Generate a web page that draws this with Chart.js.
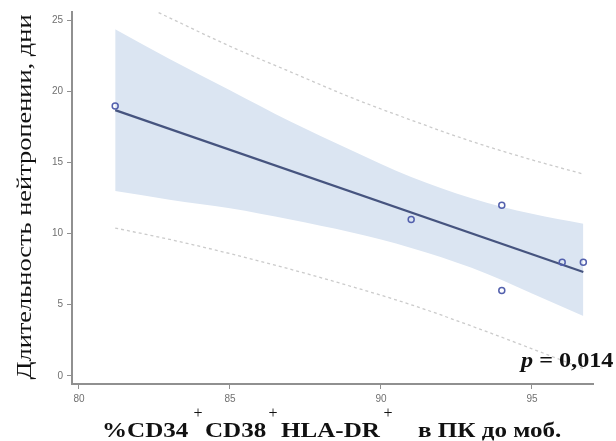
<!DOCTYPE html>
<html>
<head>
<meta charset="utf-8">
<script src="https://cdn.jsdelivr.net/npm/chart.js@4/dist/chart.umd.min.js"></script>
<style>
  html, body { margin: 0; padding: 0; background: #ffffff; }
  #wrap { width: 616px; height: 441px; position: relative; }
</style>
</head>
<body>
<div id="wrap"><canvas id="c" width="616" height="441"></canvas></div>
<script>
// Observed patients: CD34+CD38+HLA-DR+ share before mobilisation vs. neutropenia length
const cd34Percent = [81.2, 91, 94, 94, 96, 96.7];
const neutropeniaDays = [19, 11, 12, 6, 8, 8];

// Regression line end points
const fitX = [81.2, 96.7];
const fitY = [18.7, 7.3];

// Confidence band and prediction limits sampled along x
const bandX   = [81.2, 83, 85, 87, 89, 91, 93, 95, 96.7];
const ciUpper = [24.4, 22.3, 20.1, 17.9, 15.9, 14.0, 12.5, 11.4, 10.7];
const ciLower = [13.0, 12.4, 11.8, 11.0, 10.1, 9.0, 7.6, 5.8, 4.2];
const piUpper = [27.0, 25.2, 23.2, 21.4, 19.6, 18.0, 16.5, 15.2, 14.2];
const piLower = [10.4, 9.6, 8.6, 7.5, 6.3, 5.0, 3.5, 1.9, 0.5];

const xTicks = [80, 85, 90, 95];
const yTicks = [0, 5, 10, 15, 20, 25];

const yTitle = 'Длительность нейтропении, дни';
const xTitleParts = ['%CD34', 'CD38', 'HLA-DR', 'в ПК до моб.'];
const pLabel = 'p';
const pValue = ' = 0,014';

const pts = (xs, ys) => xs.map((x, i) => ({ x: x, y: ys[i] }));

const AXIS = '#909090';
const TICK_TXT = '#707070';

const textPlugin = {
  id: 'textPlugin',
  afterDraw(chart) {
    const ctx = chart.ctx;
    ctx.save();
    ctx.fillStyle = '#111111';

    // vertical axis title
    ctx.save();
    ctx.translate(31, 197);
    ctx.rotate(-Math.PI / 2);
    ctx.scale(1.2, 1);
    ctx.font = '22px "Liberation Serif", "Times New Roman", serif';
    ctx.textAlign = 'center';
    ctx.textBaseline = 'alphabetic';
    ctx.fillText(yTitle, 0, 0);
    ctx.restore();

    // horizontal axis title, pieces with raised plus signs
    const starts = [102, 205, 281, 418];
    ctx.font = 'bold 22px "Liberation Serif", "Times New Roman", serif';
    ctx.textBaseline = 'alphabetic';
    ctx.textAlign = 'left';
    xTitleParts.forEach((s, i) => {
      ctx.save();
      ctx.translate(starts[i], 437);
      ctx.scale(1.14, 1);
      ctx.fillText(s, 0, 0);
      ctx.restore();
    });
    ctx.font = '16px "Liberation Serif", "Times New Roman", serif';
    ctx.textAlign = 'center';
    [198, 273, 388].forEach(x => ctx.fillText('+', x, 418));

    // p value
    ctx.textAlign = 'left';
    ctx.save();
    ctx.translate(521, 367);
    ctx.scale(1.1, 1);
    ctx.font = 'italic bold 22px "Liberation Serif", "Times New Roman", serif';
    ctx.fillText(pLabel, 0, 0);
    const w = ctx.measureText(pLabel).width;
    ctx.font = 'bold 22px "Liberation Serif", "Times New Roman", serif';
    ctx.fillText(pValue, w, 0);
    ctx.restore();

    ctx.restore();
  }
};

new Chart(document.getElementById('c'), {
  type: 'scatter',
  data: {
    datasets: [
      {
        label: 'observations',
        data: pts(cd34Percent, neutropeniaDays),
        showLine: false,
        pointStyle: 'circle',
        pointRadius: 3,
        pointBorderWidth: 1.5,
        borderColor: '#5360ad',
        backgroundColor: 'rgba(0,0,0,0)',
        order: 0
      },
      {
        label: 'fit',
        data: pts(fitX, fitY),
        showLine: true,
        pointRadius: 0,
        borderColor: '#46547f',
        borderWidth: 2.2,
        order: 1
      },
      {
        label: 'pi upper',
        data: pts(bandX, piUpper),
        showLine: true,
        pointRadius: 0,
        borderColor: '#cbcbcb',
        borderWidth: 1.3,
        borderDash: [3, 3],
        cubicInterpolationMode: 'monotone',
        order: 2
      },
      {
        label: 'pi lower',
        data: pts(bandX, piLower),
        showLine: true,
        pointRadius: 0,
        borderColor: '#cbcbcb',
        borderWidth: 1.3,
        borderDash: [3, 3],
        cubicInterpolationMode: 'monotone',
        order: 2
      },
      {
        label: 'ci upper',
        data: pts(bandX, ciUpper),
        showLine: true,
        pointRadius: 0,
        borderWidth: 0,
        borderColor: 'rgba(0,0,0,0)',
        backgroundColor: '#dbe5f2',
        fill: '+1',
        cubicInterpolationMode: 'monotone',
        order: 3
      },
      {
        label: 'ci lower',
        data: pts(bandX, ciLower),
        showLine: true,
        pointRadius: 0,
        borderWidth: 0,
        borderColor: 'rgba(0,0,0,0)',
        cubicInterpolationMode: 'monotone',
        order: 4
      }
    ]
  },
  options: {
    responsive: false,
    animation: false,
    devicePixelRatio: 1,
    layout: { padding: { top: 12, right: 23, left: 0, bottom: 0 } },
    plugins: {
      legend: { display: false },
      tooltip: { enabled: false },
      filler: { propagate: false }
    },
    scales: {
      x: {
        type: 'linear',
        min: 79.77,
        max: 97.02,
        afterFit: s => { s.height = 57; },
        afterBuildTicks: s => { s.ticks = xTicks.map(v => ({ value: v })); },
        border: { color: AXIS, width: 2 },
        grid: { drawOnChartArea: false, drawTicks: true, tickLength: 5, color: AXIS, lineWidth: 1 },
        ticks: { color: TICK_TXT, font: { family: '"Liberation Sans", Arial, sans-serif', size: 10 }, padding: 4 }
      },
      y: {
        type: 'linear',
        min: -0.58,
        max: 25.61,
        afterFit: s => { s.width = 72; },
        afterBuildTicks: s => { s.ticks = yTicks.map(v => ({ value: v })); },
        border: { color: AXIS, width: 2 },
        grid: { drawOnChartArea: false, drawTicks: true, tickLength: 5, color: AXIS, lineWidth: 1 },
        ticks: { color: TICK_TXT, font: { family: '"Liberation Sans", Arial, sans-serif', size: 10 }, padding: 4 }
      }
    }
  },
  plugins: [textPlugin]
});
</script>
</body>
</html>
